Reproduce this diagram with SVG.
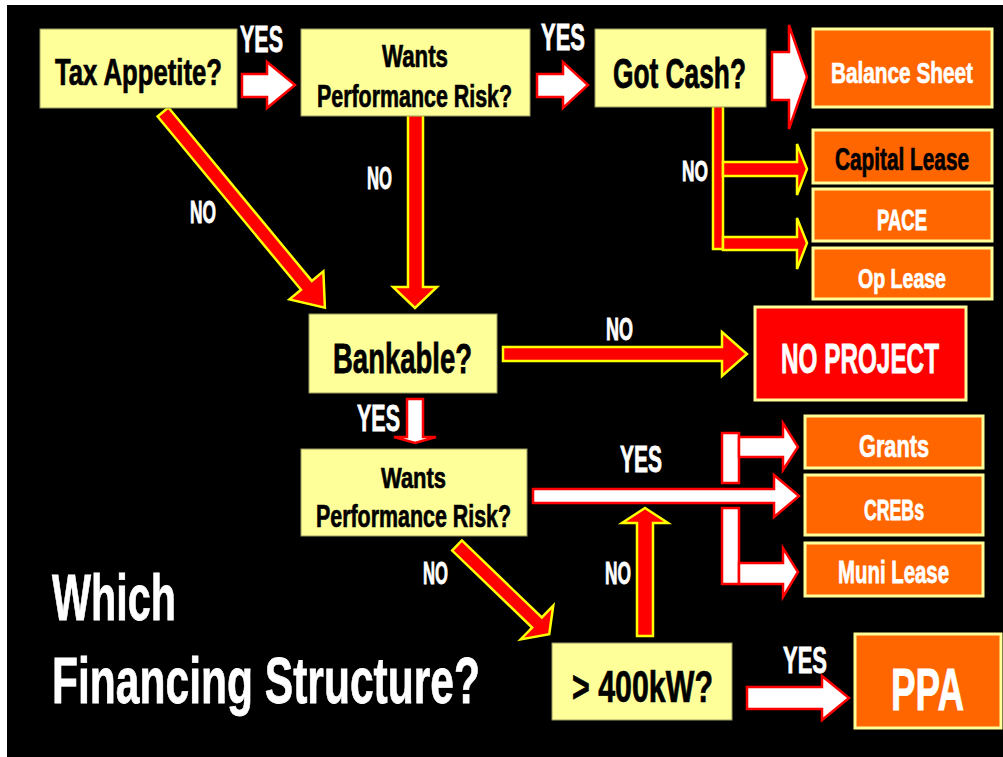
<svg xmlns="http://www.w3.org/2000/svg" width="1003" height="757" viewBox="0 0 1003 757">
<style>
text{font-family:"Liberation Sans","Arial",sans-serif;font-weight:bold}
.q{fill:#FFFF99;stroke:#9A9A60;stroke-width:1}
.o{fill:#FF6600;stroke:#FFFF99;stroke-width:3}
.r{fill:#FF0000;stroke:#FFFF99;stroke-width:3}
.ry{fill:#FF0000;stroke:#FFFF00;stroke-width:2.5;stroke-linejoin:miter}
.wr{fill:#FFFFFF;stroke:#FF0000;stroke-width:2.5;stroke-linejoin:miter}
.tb{fill:#000000;stroke:#000000;stroke-width:0.5}
.tw{fill:#FFFFFF;stroke:#FFFFFF;stroke-width:0.5}
</style>
<rect x="0" y="0" width="1003" height="757" fill="#FFFFFF"/>
<rect x="7" y="5" width="996" height="752" fill="#000000"/>

<g id="connectors">
  <polygon class="wr" points="242,74 267,74 267,62 295,85 267,108 267,97 242,97"/>
  <polygon class="wr" points="537,74 563,74 563,62 588,85 563,108 563,97 537,97"/>
  <polygon class="wr" points="772,52 789,52 789,25 807,77 789,129 789,100 772,100"/>
  <rect class="ry" x="713" y="106" width="10" height="143"/>
  <polygon class="ry" points="723,162 797,162 797,144 807,169 797,195 797,176 723,176"/>
  <polygon class="ry" points="723,237 797,237 797,218 807,243 797,269 797,250 723,250"/>
  <polygon class="ry" transform="translate(163,112) rotate(50.4)" points="0,-7 225,-7 225,-22 254,0 225,22 225,7 0,7"/>
  <polygon class="ry" points="408,115 423,115 423,287 437,287 415,308 393,287 408,287"/>
  <polygon class="ry" points="503,347 722,347 722,332 747,354 722,376 722,361 503,361"/>
  <polygon class="wr" points="407,399 423,399 423,437 436,437 415,443 394,437 407,437"/>
  <polygon class="ry" transform="translate(457,545.5) rotate(43.9)" points="0,-7 111,-7 111,-23.5 128,0 111,23.5 111,7 0,7"/>
  <polygon class="ry" points="637,636 653,636 653,523 668,523 645,508 622,523 637,523"/>
  <polygon class="wr" points="533,489 774,489 774,475 799,496 774,517 774,503 533,503"/>
  <rect class="wr" x="722" y="433" width="17" height="50"/>
  <polygon class="wr" points="739,437 783,437 783,423 798,447 783,470 783,457 739,457"/>
  <rect class="wr" x="722" y="508" width="17" height="76"/>
  <polygon class="wr" points="739,563 783,563 783,548 798,572 783,597 783,584 739,584"/>
  <polygon class="wr" points="747,687 822,687 822,676 849,698 822,720 822,709 747,709"/>

  <text class="tw" transform="translate(240,52) scale(1,1.69)" font-size="21.5" textLength="43" lengthAdjust="spacingAndGlyphs">YES</text>
  <text class="tw" transform="translate(541,50) scale(1,1.69)" font-size="21.5" textLength="44" lengthAdjust="spacingAndGlyphs">YES</text>
  <text class="tw" transform="translate(682,181) scale(1,1.7)" font-size="17.3" textLength="26" lengthAdjust="spacingAndGlyphs">NO</text>
  <text class="tw" transform="translate(367,189) scale(1,1.77)" font-size="17.3" textLength="25" lengthAdjust="spacingAndGlyphs">NO</text>
  <text class="tw" transform="translate(190,223) scale(1,1.77)" font-size="17.3" textLength="26" lengthAdjust="spacingAndGlyphs">NO</text>
  <text class="tw" transform="translate(606,340) scale(1,1.77)" font-size="17.3" textLength="27" lengthAdjust="spacingAndGlyphs">NO</text>
  <text class="tw" transform="translate(357,431) scale(1,1.69)" font-size="21.5" textLength="43" lengthAdjust="spacingAndGlyphs">YES</text>
  <text class="tw" transform="translate(620,472) scale(1,1.69)" font-size="21.5" textLength="42" lengthAdjust="spacingAndGlyphs">YES</text>
  <text class="tw" transform="translate(423,584) scale(1,1.77)" font-size="17.3" textLength="25" lengthAdjust="spacingAndGlyphs">NO</text>
  <text class="tw" transform="translate(605,584) scale(1,1.77)" font-size="17.3" textLength="26" lengthAdjust="spacingAndGlyphs">NO</text>
  <text class="tw" transform="translate(783,673) scale(1,1.69)" font-size="21.5" textLength="44" lengthAdjust="spacingAndGlyphs">YES</text>
</g>

<g id="tax-appetite">
  <rect class="q" x="40" y="29" width="197" height="79"/>
  <text class="tb" transform="translate(55,85) scale(1,1.49)" font-size="25.3" textLength="167" lengthAdjust="spacingAndGlyphs">Tax Appetite?</text>
</g>
<g id="wants-risk-1">
  <rect class="q" x="301" y="29" width="229" height="87"/>
  <text class="tb" transform="translate(382,67) scale(1,1.4)" font-size="22" textLength="66" lengthAdjust="spacingAndGlyphs">Wants</text>
  <text class="tb" transform="translate(317,107) scale(1,1.44)" font-size="21.4" textLength="195" lengthAdjust="spacingAndGlyphs">Performance Risk?</text>
</g>
<g id="got-cash">
  <rect class="q" x="595" y="29" width="171" height="78"/>
  <text class="tb" transform="translate(613,88) scale(1,1.59)" font-size="26.3" textLength="133" lengthAdjust="spacingAndGlyphs">Got Cash?</text>
</g>
<g id="balance-sheet">
  <rect class="o" x="813" y="29" width="179" height="78"/>
  <text class="tw" transform="translate(831,83) scale(1,1.41)" font-size="20.8" textLength="142" lengthAdjust="spacingAndGlyphs">Balance Sheet</text>
</g>
<g id="capital-lease">
  <rect class="o" x="813" y="130" width="179" height="53"/>
  <text class="tb" transform="translate(835,170) scale(1,1.48)" font-size="20.8" textLength="134" lengthAdjust="spacingAndGlyphs">Capital Lease</text>
</g>
<g id="pace">
  <rect class="o" x="813" y="189" width="179" height="52"/>
  <text class="tw" transform="translate(877,230) scale(1,1.63)" font-size="18" textLength="50" lengthAdjust="spacingAndGlyphs">PACE</text>
</g>
<g id="op-lease">
  <rect class="o" x="813" y="248" width="179" height="51"/>
  <text class="tw" transform="translate(858,288) scale(1,1.43)" font-size="19.5" textLength="88" lengthAdjust="spacingAndGlyphs">Op Lease</text>
</g>
<g id="bankable">
  <rect class="q" x="309" y="314" width="188" height="79"/>
  <text class="tb" transform="translate(333,373) scale(1,1.52)" font-size="27.5" textLength="139" lengthAdjust="spacingAndGlyphs">Bankable?</text>
</g>
<g id="no-project">
  <rect class="r" x="755" y="307" width="211" height="93"/>
  <text class="tw" transform="translate(781,373) scale(1,1.72)" font-size="24.3" textLength="158" lengthAdjust="spacingAndGlyphs">NO PROJECT</text>
</g>
<g id="wants-risk-2">
  <rect class="q" x="301" y="449" width="226" height="87"/>
  <text class="tb" transform="translate(381,488) scale(1,1.4)" font-size="21.7" textLength="65" lengthAdjust="spacingAndGlyphs">Wants</text>
  <text class="tb" transform="translate(316,527) scale(1,1.44)" font-size="21.4" textLength="195" lengthAdjust="spacingAndGlyphs">Performance Risk?</text>
</g>
<g id="grants">
  <rect class="o" x="805" y="416" width="178" height="52"/>
  <text class="tw" transform="translate(859,457) scale(1,1.42)" font-size="21.7" textLength="70" lengthAdjust="spacingAndGlyphs">Grants</text>
</g>
<g id="crebs">
  <rect class="o" x="805" y="475" width="178" height="60"/>
  <text class="tw" transform="translate(864,520) scale(1,1.66)" font-size="17.7" textLength="60" lengthAdjust="spacingAndGlyphs">CREBs</text>
</g>
<g id="muni-lease">
  <rect class="o" x="805" y="543" width="178" height="53"/>
  <text class="tw" transform="translate(838,583) scale(1,1.51)" font-size="20.4" textLength="111" lengthAdjust="spacingAndGlyphs">Muni Lease</text>
</g>
<g id="over-400kw">
  <rect class="q" x="552" y="643" width="180" height="77"/>
  <text class="tb" transform="translate(572,702) scale(1,1.47)" font-size="30.4" textLength="141" lengthAdjust="spacingAndGlyphs">&gt; 400kW?</text>
</g>
<g id="ppa">
  <rect class="o" x="855" y="634" width="146" height="94"/>
  <text class="tw" transform="translate(891,710) scale(1,1.69)" font-size="35.5" textLength="73" lengthAdjust="spacingAndGlyphs">PPA</text>
</g>
<g id="title">
  <text class="tw" transform="translate(52,620) scale(1,1.56)" font-size="41.3" textLength="124" lengthAdjust="spacingAndGlyphs">Which</text>
  <text class="tw" transform="translate(52,703) scale(1,1.51)" font-size="42.6" textLength="428" lengthAdjust="spacingAndGlyphs">Financing Structure?</text>
</g>
</svg>
